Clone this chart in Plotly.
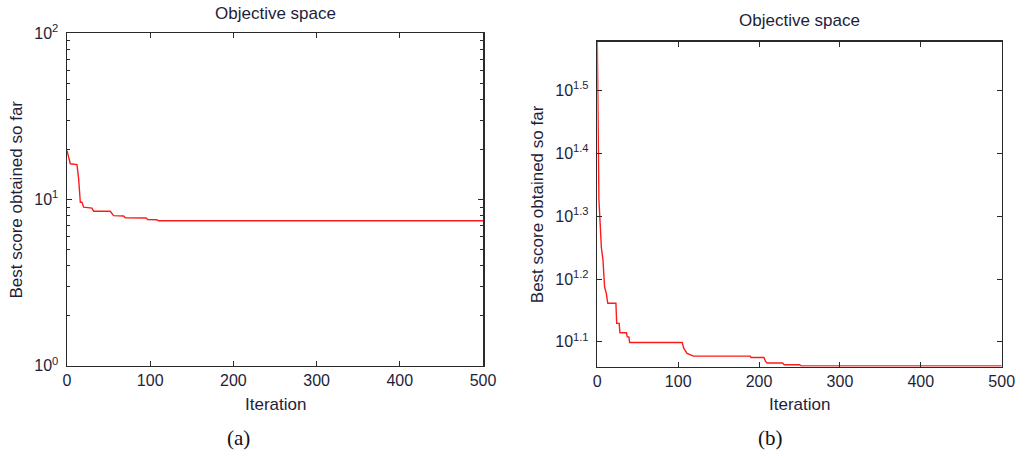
import plotly.graph_objects as go

# ---- data ----
left_iter = [0, 4, 12, 14, 16, 18, 20, 30, 32, 52, 56, 68, 70, 95, 97, 108, 110, 500]
left_best = [19.7, 16.4, 16.2, 13.3, 9.63, 9.63, 8.99, 8.87, 8.5, 8.5, 8.0, 7.95, 7.76, 7.74, 7.58, 7.56, 7.45, 7.45]

right_iter = [0, 1, 2, 5, 7, 9, 11, 13, 23, 24, 27, 28, 36, 37, 39, 40, 105, 107, 111, 119,
              189, 190, 206, 208, 210, 229, 231, 250, 252, 500]
right_best = [37.8, 24.2, 21.2, 17.8, 17.0, 15.4, 15.06, 14.5, 14.5, 13.47, 13.47, 13.02, 13.02, 12.82,
              12.82, 12.56, 12.56, 12.29, 12.07, 11.95, 11.95, 11.89, 11.89, 11.72, 11.65, 11.65,
              11.58, 11.58, 11.53, 11.53]

x_ticks = [0, 100, 200, 300, 400, 500]
left_yticks = [1, 10, 100]
left_ytext = ["10<sup>0</sup>", "10<sup>1</sup>", "10<sup>2</sup>"]
left_minor = [2, 3, 4, 5, 6, 7, 8, 9, 20, 30, 40, 50, 60, 70, 80, 90]
right_yticks = [10 ** 1.1, 10 ** 1.2, 10 ** 1.3, 10 ** 1.4, 10 ** 1.5]
right_ytext = ["10<sup>1.1</sup>", "10<sup>1.2</sup>", "10<sup>1.3</sup>", "10<sup>1.4</sup>", "10<sup>1.5</sup>"]

title_text = "Objective space"
xlabel = "Iteration"
ylabel = "Best score obtained so far"
captions = ["(a)", "(b)"]

W, H = 1025, 458
TXT = "#1e1e3a"
AX = "#2a2a2a"
FONT = "Liberation Sans, Arial, sans-serif"

fig = go.Figure()
fig.add_trace(go.Scatter(x=left_iter, y=left_best, mode="lines",
                         line=dict(color="#ff1a1a", width=1.4), xaxis="x", yaxis="y",
                         showlegend=False, hoverinfo="skip"))
fig.add_trace(go.Scatter(x=right_iter, y=right_best, mode="lines",
                         line=dict(color="#ff1a1a", width=1.4), xaxis="x2", yaxis="y2",
                         showlegend=False, hoverinfo="skip"))

def px_x(a, b):
    return [a / W, b / W]

def px_y(top, bottom):
    return [1 - bottom / H, 1 - top / H]

common_x = dict(range=[0, 500], tickvals=x_ticks, ticks="inside", ticklen=5, tickwidth=1,
                tickcolor=AX, showline=True, linecolor=AX, linewidth=1.5, mirror="ticks",
                showgrid=False, zeroline=False, automargin=False,
                tickfont=dict(family=FONT, size=16, color=TXT))
common_y = dict(type="log", ticks="inside", ticklen=5, tickwidth=1, tickcolor=AX,
                showline=True, linecolor=AX, linewidth=1.5, mirror="ticks",
                showgrid=False, zeroline=False, tickmode="array", automargin=False,
                tickfont=dict(family=FONT, size=16, color=TXT), ticklabelstandoff=4)

fig.update_layout(
    template="none",
    width=W, height=H,
    margin=dict(l=0, r=0, t=0, b=0, pad=0),
    paper_bgcolor="white", plot_bgcolor="white",
    xaxis=dict(domain=px_x(67, 483), anchor="y", **common_x),
    yaxis=dict(domain=px_y(33.3, 365.7), anchor="x", range=[0, 2],
               tickvals=left_yticks, ticktext=left_ytext,
               minor=dict(tickmode="array", tickvals=left_minor, ticks="inside",
                          ticklen=3, tickcolor=AX, showgrid=False),
               **common_y),
    xaxis2=dict(domain=px_x(597.3, 1001.7), anchor="y2", **common_x),
    yaxis2=dict(domain=px_y(41.7, 366.7), anchor="x2", range=[1.0605, 1.5775],
                tickvals=right_yticks, ticktext=right_ytext, **common_y),
)

ann = []
# titles
ann.append(dict(text=title_text, xref="x domain", yref="y domain", x=0.5, y=1, yanchor="bottom",
                yshift=8, showarrow=False, font=dict(family=FONT, size=17, color=TXT)))
ann.append(dict(text=title_text, xref="x2 domain", yref="y2 domain", x=0.5, y=1, yanchor="bottom",
                yshift=10, showarrow=False, font=dict(family=FONT, size=17, color=TXT)))
# x labels
ann.append(dict(text=xlabel, xref="x domain", yref="paper", x=0.5, y=1 - 404 / H, yanchor="middle",
                showarrow=False, font=dict(family=FONT, size=17, color=TXT)))
ann.append(dict(text=xlabel, xref="x2 domain", yref="paper", x=0.5, y=1 - 404 / H, yanchor="middle",
                showarrow=False, font=dict(family=FONT, size=17, color=TXT)))
# y labels
ann.append(dict(text=ylabel, xref="paper", yref="y domain", x=16 / W, y=0.5, xanchor="center",
                textangle=-90, showarrow=False, font=dict(family=FONT, size=17, color=TXT)))
ann.append(dict(text=ylabel, xref="paper", yref="y2 domain", x=537 / W, y=0.5, xanchor="center",
                textangle=-90, showarrow=False, font=dict(family=FONT, size=17, color=TXT)))
# captions
ann.append(dict(text=captions[0], xref="paper", yref="paper", x=225 / W, y=1 - 438 / H,
                yanchor="middle", showarrow=False,
                font=dict(family="Liberation Serif, Times New Roman, serif", size=21, color="#111")))
ann.append(dict(text=captions[1], xref="paper", yref="paper", x=785 / W, y=1 - 438 / H,
                yanchor="middle", showarrow=False,
                font=dict(family="Liberation Serif, Times New Roman, serif", size=21, color="#111")))
fig.update_layout(annotations=ann)

fig.write_html("out.html", config={"displayModeBar": False, "staticPlot": True},
               post_script="document.body.style.margin='0';document.body.style.padding='0';"
                           "document.body.style.overflow='hidden';")
